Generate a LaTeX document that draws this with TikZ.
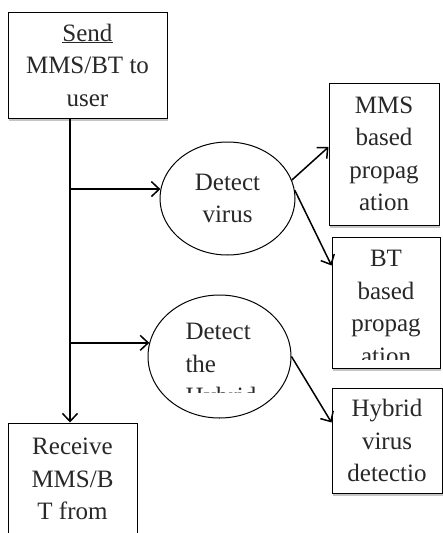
\documentclass[tikz,border=0pt]{standalone}
\usepackage{fontspec}
\setmainfont{Liberation Serif}
\usetikzlibrary{shapes.geometric, arrows.meta, shadows}
\definecolor{inkgray}{RGB}{40, 40, 40}
\tikzset{
    flowbox/.style={draw, fill=white, line width=1pt, inner sep=0pt,
        drop shadow={shadow xshift=1pt, shadow yshift=-2.5pt, opacity=.45}},
    flowellipse/.style={draw, ellipse, fill=white, line width=1pt,
        inner sep=0pt},
    flowtext/.style={align=center, text=inkgray,
        font=\fontsize{25}{32.5}\selectfont},
    flowarrow/.style={-{Straight Barb[length=8pt, width=15pt]},
        line width=1.5pt},
}

\begin{document}
\begin{tikzpicture}[x=1pt, y=-1pt]
            \clip (0, 0) rectangle (443, 533);
            \fill[white] (0, 0) rectangle (443, 533);
            \coordinate (trunk) at (70, 0);
            \node[flowbox, flowtext, minimum width=159pt, minimum height=106pt]
                (send) at (87.5, 65) {\underline{Send}\\MMS/BT to\\user};
            \node[flowbox, flowtext, minimum width=129pt, minimum height=112pt]
                (receive) at (72.5, 479) {Receive\\MMS/B\\T from};
            \node[flowellipse, flowtext, minimum width=135pt,
                minimum height=113pt] (detvirus) at (227.5, 198.5)
                {Detect\\virus};
            \node[flowellipse, minimum width=143pt, minimum height=123pt]
                (dethybrid) at (219.5, 356.5) {};
            \begin{scope}
                \clip (150, 290) rectangle (290, 392);
                \node[flowtext, align=left, anchor=west] at (182, 367)
                    {Detect\\the\\Hybrid};
            \end{scope}
            \node[flowbox, flowtext, minimum width=110pt, minimum height=142pt]
                (mms) at (384, 154) {MMS\\based\\propag\\ation};
            \node[flowbox, minimum width=108pt, minimum height=131pt]
                (bt) at (386, 302.5) {};
            \begin{scope}
                \clip (bt.north west) rectangle ([yshift=9pt]bt.south east);
                \node[flowtext] at (386, 307.5) {BT\\based\\propag\\ation};
            \end{scope}
            \node[flowbox, flowtext, minimum width=110pt, minimum height=105pt]
                (hybrid) at (387, 440.5) {Hybrid\\virus\\detectio};
            \draw[flowarrow] (send.south -| trunk) -- (trunk |- receive.north);
            \draw[flowarrow] (trunk |- detvirus.172) -- (detvirus.172);
            \draw[flowarrow] (trunk |- dethybrid.169) -- (dethybrid.169);
            \draw[flowarrow] (detvirus.16) -- ([yshift=7pt]mms.west);
            \draw[flowarrow] (detvirus.7) -- ([yshift=37pt]bt.west);
            \draw[flowarrow] (dethybrid.east) -- ([yshift=18pt]hybrid.west);
        \end{tikzpicture}
\end{document}
